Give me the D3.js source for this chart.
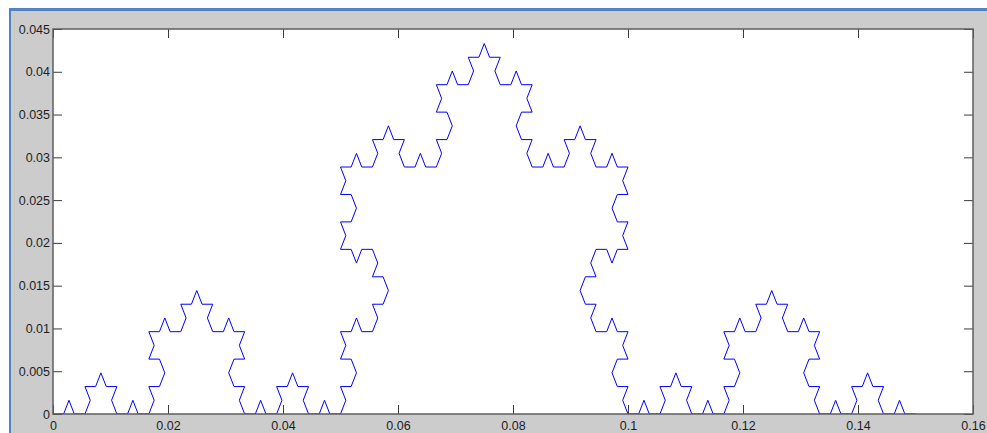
<!DOCTYPE html>
<html>
<head>
<meta charset="utf-8">
<script src="https://cdn.jsdelivr.net/npm/d3@7/dist/d3.min.js"></script>
<style>
  html, body { margin: 0; padding: 0; background: #ffffff; }
  svg { display: block; }
  .tick-label { font-family: "Liberation Sans", Arial, Helvetica, sans-serif; font-size: 12.5px; fill: #1e1e1e; }
</style>
</head>
<body>
<svg id="chart" width="987" height="433"></svg>
<script>
// Axis ticks and their labels
const xTickValues = [0, 0.02, 0.04, 0.06, 0.08, 0.1, 0.12, 0.14, 0.16];
const xTickLabels = ["0", "0.02", "0.04", "0.06", "0.08", "0.1", "0.12", "0.14", "0.16"];
const yTickValues = [0, 0.005, 0.01, 0.015, 0.02, 0.025, 0.03, 0.035, 0.04, 0.045];
const yTickLabels = ["0", "0.005", "0.01", "0.015", "0.02", "0.025", "0.03", "0.035", "0.04", "0.045"];

// Koch curve, 4th generation: starts at the origin and spans 0.15 along x
const curveStart = [0, 0];
const curveSpan = 0.15;
const generation = 4;
// Heading of each of the 256 segments, in multiples of 60 degrees (counter-clockwise)
const segmentHeadings = [
  "0150120150450150", "1201231201501201", "5045015045345045", "0150120150450150",
  "1201231201501201", "2312342312012312", "0150120150450150", "1201231201501201",
  "5045015045345045", "0150120150450150", "4534504534234534", "5045015045345045",
  "0150120150450150", "1201231201501201", "5045015045345045", "0150120150450150"
];

const svg = d3.select("#chart");
const W = 987, H = 433;

// Figure window: white surround, blue frame edge, grey figure face
svg.append("rect").attr("width", W).attr("height", H).attr("fill", "#ffffff");
svg.append("rect").attr("x", 9).attr("y", 8).attr("width", W - 9).attr("height", H - 8).attr("fill", "#4f83c4");
svg.append("rect").attr("x", 11).attr("y", 11).attr("width", W - 11).attr("height", H - 11).attr("fill", "#cccccc");

const plot = { left: 53, right: 973, top: 29, bottom: 414 };

const x = d3.scaleLinear().domain([0, 0.16]).range([plot.left, plot.right]);
const y = d3.scaleLinear().domain([0, 0.045]).range([plot.bottom, plot.top]);

// Axes face
svg.append("rect")
  .attr("x", plot.left).attr("y", plot.top)
  .attr("width", plot.right - plot.left).attr("height", plot.bottom - plot.top)
  .attr("fill", "#ffffff");

// Vertices of the curve, walked segment by segment
const headings = segmentHeadings.join("").split("").map(Number);
const segmentLength = curveSpan / Math.pow(3, generation);
const vertices = [curveStart.slice()];
headings.forEach(h => {
  const last = vertices[vertices.length - 1];
  const a = h * Math.PI / 3;
  vertices.push([last[0] + segmentLength * Math.cos(a), last[1] + segmentLength * Math.sin(a)]);
});

const line = d3.line().x(d => x(d[0])).y(d => y(d[1]));

const clip = svg.append("clipPath").attr("id", "plot-clip");
clip.append("rect")
  .attr("x", plot.left).attr("y", plot.top - 1)
  .attr("width", plot.right - plot.left).attr("height", plot.bottom - plot.top + 1);

svg.append("path")
  .datum(vertices)
  .attr("clip-path", "url(#plot-clip)")
  .attr("d", line)
  .attr("fill", "none")
  .attr("stroke", "#0000ff")
  .attr("stroke-width", 1)
  .attr("stroke-linejoin", "miter");

// Inward ticks on all four sides
const tickLen = 9;
const tickColor = "#3c3c3c";
const axisBottom = d3.axisBottom(x).tickValues(xTickValues).tickSize(-tickLen).tickFormat((d, i) => xTickLabels[i]).tickPadding(7);
const axisTop = d3.axisTop(x).tickValues(xTickValues).tickSize(-tickLen).tickFormat("");
const axisLeft = d3.axisLeft(y).tickValues(yTickValues).tickSize(-tickLen).tickFormat((d, i) => yTickLabels[i]).tickPadding(3);
const axisRight = d3.axisRight(y).tickValues(yTickValues).tickSize(-tickLen).tickFormat("");

function styleAxis(g) {
  g.select(".domain").remove();
  g.selectAll(".tick line").attr("stroke", tickColor).attr("stroke-width", 1);
  g.selectAll(".tick text").attr("class", "tick-label").attr("fill", null);
}

svg.append("g").attr("transform", `translate(0,${plot.bottom})`).call(axisBottom).call(styleAxis);
svg.append("g").attr("transform", `translate(0,${plot.top})`).call(axisTop).call(styleAxis);
svg.append("g").attr("transform", `translate(${plot.left},0)`).call(axisLeft).call(styleAxis);
svg.append("g").attr("transform", `translate(${plot.right},0)`).call(axisRight).call(styleAxis);

// Axes box
svg.append("rect")
  .attr("x", plot.left).attr("y", plot.top)
  .attr("width", plot.right - plot.left).attr("height", plot.bottom - plot.top)
  .attr("fill", "none")
  .attr("stroke", "#5e5e5e")
  .attr("stroke-width", 1.5);
</script>
</body>
</html>
